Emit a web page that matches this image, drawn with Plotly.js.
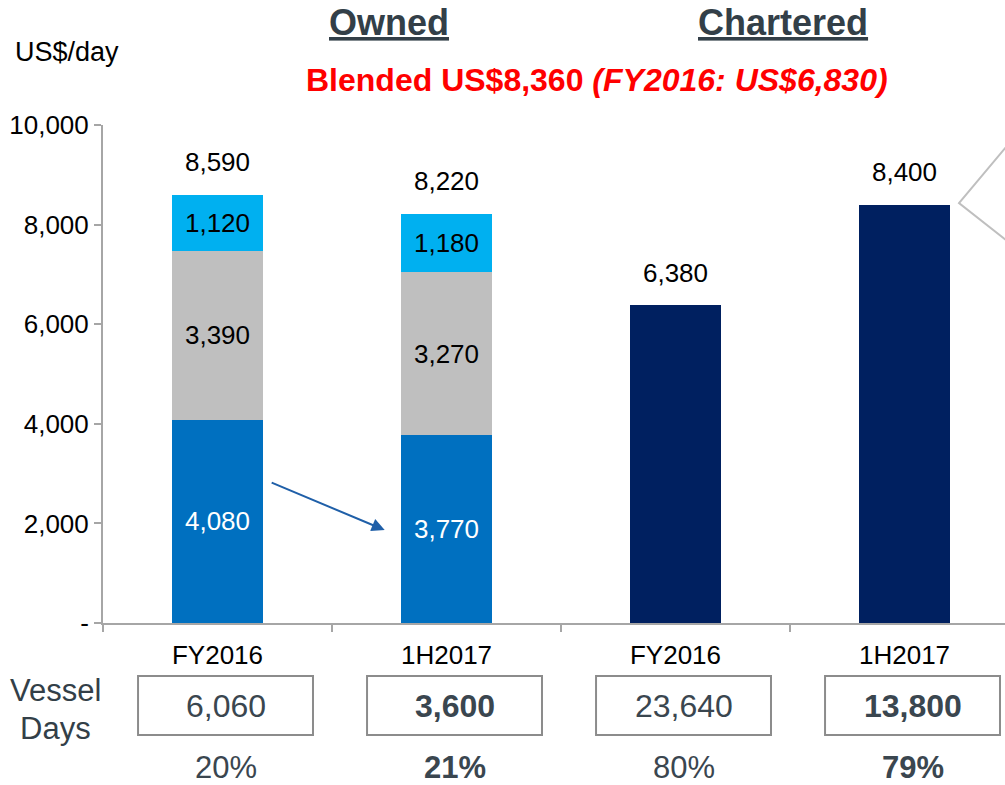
<!DOCTYPE html>
<html>
<head>
<meta charset="utf-8">
<script src="https://cdn.plot.ly/plotly-3.0.1.min.js"></script>
<style>html,body{margin:0;padding:0;background:#fff;}#chart{width:1005px;height:785px;}</style>
</head>
<body>
<div id="chart"></div>
<script>
// ---- data ----
const categories = ["FY2016", "1H2017", "FY2016", "1H2017"];
const ownedFreight = [4080, 3770, null, null];
const ownedOpex = [3390, 3270, null, null];
const ownedOther = [1120, 1180, null, null];
const chartered = [null, null, 6380, 8400];
const totals = [8590, 8220, 6380, 8400];
const vesselDays = ["6,060", "3,600", "23,640", "13,800"];
const vesselShare = ["20%", "21%", "80%", "79%"];
const boldFlags = [false, true, false, true];
const yTickVals = [0, 2000, 4000, 6000, 8000, 10000];
const yTickText = ["-", "2,000", "4,000", "6,000", "8,000", "10,000"];
const groupTitles = ["Owned", "Chartered"];
const blendedText = "Blended US$8,360 ";
const blendedPrior = "(FY2016: US$6,830)";
const arrowFrom = [0, 4080];
const arrowTo = [1, 3770];

const FONT = "Liberation Sans, Arial, sans-serif";
const xs = categories.map((_, i) => i);
const fmt = v => v == null ? "" : v.toLocaleString("en-US");
const BW = 0.40;

const traces = [
  {type: "bar", x: xs, y: ownedFreight, width: BW, marker: {color: "#0070C0"},
   text: ownedFreight.map(fmt), textposition: "inside", insidetextanchor: "middle",
   textfont: {color: "#ffffff", size: 26, family: FONT}, textangle: 0, hoverinfo: "none"},
  {type: "bar", x: xs, y: ownedOpex, width: BW, marker: {color: "#BFBFBF"},
   text: ownedOpex.map(fmt), textposition: "inside", insidetextanchor: "middle",
   textfont: {color: "#000000", size: 26, family: FONT}, textangle: 0, hoverinfo: "none"},
  {type: "bar", x: xs, y: ownedOther, width: BW, marker: {color: "#00B0F0"},
   text: ownedOther.map(fmt), textposition: "inside", insidetextanchor: "middle",
   textfont: {color: "#000000", size: 26, family: FONT}, textangle: 0, hoverinfo: "none"},
  {type: "bar", x: xs, y: chartered, width: BW, marker: {color: "#002060"},
   hoverinfo: "none"},
  {type: "scatter", mode: "markers+text", x: xs, y: totals, text: totals.map(fmt),
   marker: {size: 26, opacity: 0}, 
   textposition: "top center", textfont: {color: "#000000", size: 26, family: FONT},
   hoverinfo: "none", cliponaxis: false},
  {type: "scatter", mode: "markers", x: [0], y: [0], xaxis: "x2", yaxis: "y",
   marker: {opacity: 0}, hoverinfo: "none"}
];

// pixel helpers for paper coords
const L = 103, R = 0, T = 125, B = 162, W = 1005, H = 785;
const pw = W - L - R, ph = H - T - B;
const px = x => (x - L) / pw;
const py = y => (H - B - y) / ph;
const catW = 229;
const xr = [-0.5, -0.5 + pw / catW];

const annotations = [];
// group titles
annotations.push({xref: "paper", yref: "paper", x: px(389), y: py(22), text: "<b><u>" + groupTitles[0] + "</u></b>",
  showarrow: false, font: {size: 36, color: "#333F48", family: FONT}, xanchor: "center", yanchor: "middle"});
annotations.push({xref: "paper", yref: "paper", x: px(783), y: py(22), text: "<b><u>" + groupTitles[1] + "</u></b>",
  showarrow: false, font: {size: 36, color: "#333F48", family: FONT}, xanchor: "center", yanchor: "middle"});
annotations.push({xref: "paper", yref: "paper", x: px(597), y: py(80),
  text: "<b>" + blendedText + "<i>" + blendedPrior + "</i></b>",
  showarrow: false, font: {size: 32, color: "#FF0000", family: FONT}, xanchor: "center", yanchor: "middle"});
annotations.push({xref: "paper", yref: "paper", x: px(13), y: py(52), text: "US$/day",
  showarrow: false, font: {size: 27, color: "#000000", family: FONT}, xanchor: "left", yanchor: "middle"});
annotations.push({xref: "paper", yref: "paper", x: px(55), y: py(690), text: "Vessel",
  showarrow: false, font: {size: 31, color: "#333F48", family: FONT}, xanchor: "center", yanchor: "middle"});
annotations.push({xref: "paper", yref: "paper", x: px(55), y: py(728), text: "Days",
  showarrow: false, font: {size: 31, color: "#333F48", family: FONT}, xanchor: "center", yanchor: "middle"});

// vessel days and shares
const shapes = [];
xs.forEach((x, i) => {
  const b = boldFlags[i];
  annotations.push({xref: "x", yref: "paper", x: x + 0.035, y: py(706),
    text: b ? "<b>" + vesselDays[i] + "</b>" : vesselDays[i],
    showarrow: false, font: {size: 32, color: "#3A464F", family: FONT}, xanchor: "center", yanchor: "middle"});
  annotations.push({xref: "x", yref: "paper", x: x + 0.035, y: py(767),
    text: b ? "<b>" + vesselShare[i] + "</b>" : vesselShare[i],
    showarrow: false, font: {size: 31, color: "#3A464F", family: FONT}, xanchor: "center", yanchor: "middle"});
  shapes.push({type: "rect", xref: "x", yref: "paper", x0: x - 0.347, x1: x + 0.417,
    y0: py(676), y1: py(735), line: {color: "#8C8C8C", width: 2}});
});

// arrow between owned freight bars
annotations.push({xref: "x", yref: "y", axref: "x", ayref: "y",
  x: arrowTo[0] - 0.27, y: arrowTo[1] * 0.495, ax: arrowFrom[0] + 0.23, ay: arrowFrom[1] * 0.694,
  showarrow: true, arrowhead: 2, arrowsize: 1.3, arrowwidth: 2, arrowcolor: "#1F5FA8", text: ""});

// callout pointer at right edge
shapes.push({type: "path", xref: "paper", yref: "paper",
  path: `M ${px(1006)} ${py(147)} L ${px(959)} ${py(203)} L ${px(1006)} ${py(240)}`,
  line: {color: "#BFBFBF", width: 2}});

const layout = {
  width: W, height: H,
  margin: {l: L, r: R, t: T, b: B, pad: 0},
  paper_bgcolor: "#ffffff", plot_bgcolor: "#ffffff",
  barmode: "stack", showlegend: false,
  font: {family: FONT, color: "#000000"},
  xaxis: {range: xr, tickmode: "array", tickvals: xs, ticktext: categories,
    ticks: "", showgrid: false, zeroline: false, showline: true, linecolor: "#A6A6A6", linewidth: 2,
    tickfont: {size: 26, color: "#000000", family: FONT}, ticklabelstandoff: 8, fixedrange: true},
  xaxis2: {overlaying: "x", anchor: "y", side: "bottom", range: xr, tickmode: "array",
    tickvals: [-0.5, 0.5, 1.5, 2.5, 3.5], ticks: "outside", ticklen: 8, tickwidth: 2, tickcolor: "#A6A6A6",
    showticklabels: false, showgrid: false, zeroline: false, showline: false},
  yaxis: {range: [0, 10000], tickmode: "array", tickvals: yTickVals, ticktext: yTickText,
    ticks: "outside", ticklen: 7, tickwidth: 2, tickcolor: "#A6A6A6",
    showgrid: false, zeroline: false, showline: true, linecolor: "#A6A6A6", linewidth: 2,
    tickfont: {size: 26, color: "#000000", family: FONT}, ticklabelstandoff: 0},
  annotations: annotations,
  shapes: shapes
};

Plotly.newPlot("chart", traces, layout, {staticPlot: true, displayModeBar: false});
</script>
</body>
</html>
